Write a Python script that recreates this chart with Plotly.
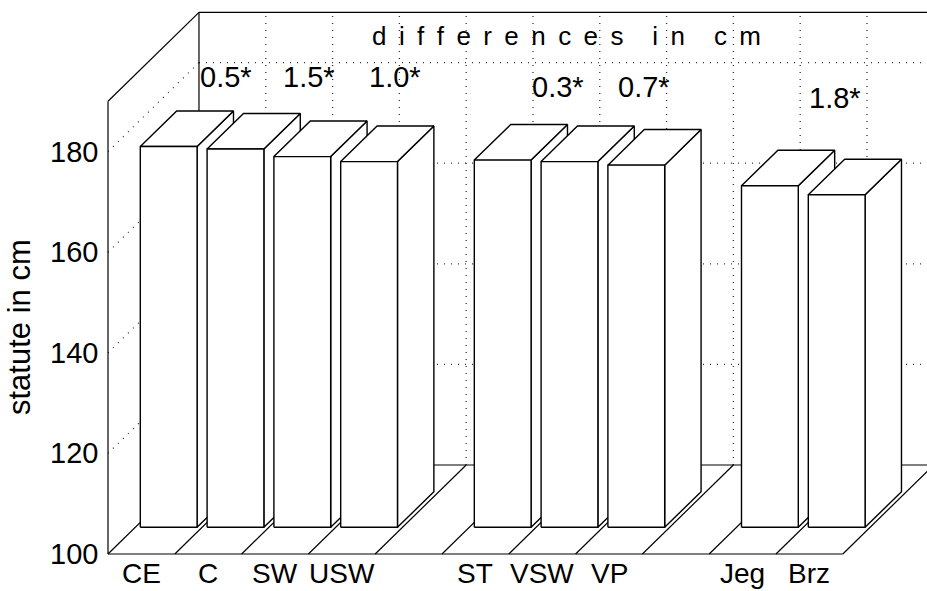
import plotly.graph_objects as go

# ---------------- data ----------------
categories = ["CE", "C", "SW", "USW", "", "ST", "VSW", "VP", "", "Jeg", "Brz"]
statute = [175.7, 175.2, 173.7, 172.7, None, 173.0, 172.7, 172.0, None, 167.9, 166.1]
diff_labels = ["0.5*", "1.5*", "1.0*", "0.3*", "0.7*", "1.8*"]
z_ticks = [100, 120, 140, 160, 180]
z_tick_labels = ["100", "120", "140", "160", "180"]
grid_levels = [120, 140, 160, 180]
title_text = "differences in cm"
z_title = "statute in cm"

# ---------------- geometry / style ----------------
W, H = 927, 591
PX0, PY0 = 108, 554        # pixel of front-left-bottom corner
SLOT_PX, CM_PX = 66.8, 5.03
Z_MIN, Z_MAX = 100, 190
DX, DY = 1.362, 17.69      # oblique projection of unit depth (slot units, cm)
BAR_W = 0.85
D0, D1 = 0.3, 0.7
N = len(categories)
FONT = "Liberation Sans, Arial, Helvetica, sans-serif"

x_range = [-PX0 / SLOT_PX, (W - PX0) / SLOT_PX]
y_range = [Z_MIN - (H - PY0) / CM_PX, Z_MIN + PY0 / CM_PX]

# paper-positions of free texts (pixel centres)
diff_pos = [(226, 77), (309, 77), (395, 77), (558, 87), (644, 87), (835, 98)]
title_pos = (566, 36)
ztitle_pos = (19, 327)


def P(s, d, v):
    return s + d * DX, v + d * DY


fig = go.Figure()


def line(pts, dash=None, color="black", width=1.2):
    xs = [P(*p)[0] for p in pts]
    ys = [P(*p)[1] for p in pts]
    fig.add_trace(go.Scatter(x=xs, y=ys, mode="lines", hoverinfo="skip",
                             line=dict(color=color, width=width, dash=dash)))


def poly(pts):
    xs = [P(*p)[0] for p in pts] + [P(*pts[0])[0]]
    ys = [P(*p)[1] for p in pts] + [P(*pts[0])[1]]
    fig.add_trace(go.Scatter(x=xs, y=ys, mode="lines", fill="toself",
                             fillcolor="white", hoverinfo="skip",
                             line=dict(color="black", width=1.4)))


DOT = "1px,6px"
# back wall grid
for g in grid_levels:
    line([(0, 1, g), (N + 1, 1, g)], dash=DOT, color="#333", width=1.3)
    line([(0, 0, g), (0, 1, g)], dash=DOT, color="#333", width=1.3)
for s in range(1, N + 1):
    line([(s, 1, Z_MIN), (s, 1, Z_MAX)], dash=DOT, color="#333", width=1.3)

# box frame
line([(0, 0, Z_MIN), (0, 0, Z_MAX)])
line([(0, 0, Z_MAX), (0, 1, Z_MAX)])
line([(0, 1, Z_MIN), (0, 1, Z_MAX)])
line([(0, 1, Z_MAX), (N + 1, 1, Z_MAX)])
# floor
line([(0, 0, Z_MIN), (N, 0, Z_MIN)])
line([(0, 1, Z_MIN), (N + 1, 1, Z_MIN)])
for s in range(0, N + 1):
    line([(s, 0, Z_MIN), (s, 1, Z_MIN)])

# bars
for i, v in enumerate(statute):
    if v is None:
        continue
    x0 = i + (1 - BAR_W) / 2
    x1 = x0 + BAR_W
    poly([(x1, D0, Z_MIN), (x1, D1, Z_MIN), (x1, D1, v), (x1, D0, v)])
    poly([(x0, D0, v), (x1, D0, v), (x1, D1, v), (x0, D1, v)])
    poly([(x0, D0, Z_MIN), (x1, D0, Z_MIN), (x1, D0, v), (x0, D0, v)])

ann = []
for t, lab in zip(z_ticks, z_tick_labels):
    X, Y = P(0, 0, t)
    ann.append(dict(x=X, y=Y, xref="x", yref="y", text=lab, showarrow=False,
                    xanchor="right", yanchor="middle", xshift=-8,
                    font=dict(size=29, color="black", family=FONT)))
for i, c in enumerate(categories):
    if not c:
        continue
    X, _ = P(i + 0.5, 0, Z_MIN)
    ann.append(dict(x=X, y=0, xref="x", yref="paper", text=c, showarrow=False,
                    xanchor="center", yanchor="bottom", borderpad=0, yshift=1,
                    font=dict(size=28, color="black", family=FONT)))
for lab, (px, py) in zip(diff_labels, diff_pos):
    ann.append(dict(x=px / W, y=1 - py / H, xref="paper", yref="paper", text=lab,
                    showarrow=False, xanchor="center", yanchor="middle",
                    font=dict(size=29, color="black", family=FONT)))

gap = "\u00a0\u2009"
spaced = ("\u00a0" * 4).join(gap.join(list(w)) for w in title_text.split(" "))
ann.append(dict(x=title_pos[0] / W, y=1 - title_pos[1] / H, xref="paper", yref="paper",
                text=spaced, showarrow=False, xanchor="center", yanchor="middle",
                font=dict(size=26, color="black", family=FONT)))
ann.append(dict(x=ztitle_pos[0] / W, y=1 - ztitle_pos[1] / H, xref="paper", yref="paper",
                text=z_title, showarrow=False, textangle=-90, xanchor="center",
                yanchor="middle", font=dict(size=31, color="black", family=FONT)))

fig.update_layout(
    width=W, height=H, margin=dict(l=0, r=0, t=0, b=0),
    paper_bgcolor="white", plot_bgcolor="white", showlegend=False,
    xaxis=dict(range=x_range, visible=False, fixedrange=True),
    yaxis=dict(range=y_range, visible=False, fixedrange=True),
    annotations=ann,
)
fig.write_html("out.html", config={"displayModeBar": False},
               post_script="document.body.style.margin='0px';document.body.style.overflow='hidden';")
